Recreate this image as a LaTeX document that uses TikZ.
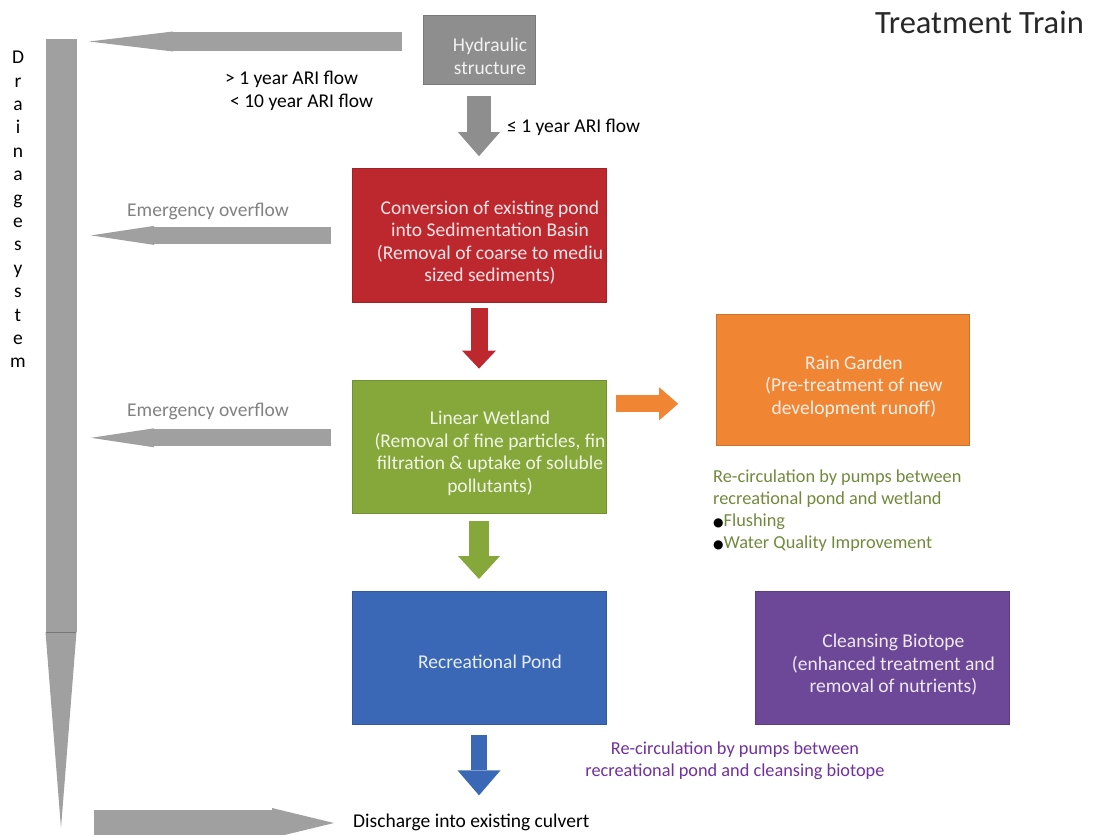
\documentclass[tikz,border=0pt]{standalone}
\usepackage{fontspec}
\setmainfont{Carlito}
\newfontfamily\symfont{DejaVu Sans}
\usetikzlibrary{positioning,arrows.meta}

\definecolor{hydgray}{RGB}{142,142,142}
\definecolor{arrowgray}{RGB}{160,160,160}
\definecolor{sedred}{RGB}{188,40,46}
\definecolor{wetgreen}{RGB}{134,168,58}
\definecolor{rainorange}{RGB}{240,133,52}
\definecolor{pondblue}{RGB}{58,104,182}
\definecolor{biopurple}{RGB}{110,72,152}
\definecolor{notegreen}{RGB}{112,138,60}
\definecolor{notepurple}{RGB}{112,48,160}
\definecolor{overgray}{RGB}{130,130,130}
\definecolor{titlegray}{RGB}{40,40,40}

\begin{document}
\begin{tikzpicture}[x=1pt,y=-1pt,
  box/.style={rectangle,fill=#1,draw=#1!85!black,minimum width=254pt,minimum height=133pt,inner sep=0pt},
  boxtext/.style={align=center,text=white!88!#1,font=\fontsize{19.5}{22.5}\selectfont,inner sep=0pt,xshift=11pt,yshift=-7pt},
  note/.style={font=\fontsize{19.5}{22}\selectfont,inner sep=0pt,anchor=west},
  blockarrow/.style n args={4}{draw=#1,line width=#2,-{Triangle[width=#3,length=#4,line width=0pt]}}]
  \useasboundingbox (0,0) rectangle (1093,835);

  \node[font=\fontsize{32.5}{38}\selectfont,text=titlegray,anchor=base east,inner sep=0pt] (title) at (1084,34) {Treatment Train};

  % boxes of the train
  \node[box=hydgray,minimum width=112pt,minimum height=69pt] (hyd) at (479,49.5) {};
  \node[box=sedred,minimum height=134pt,below=84pt of hyd] (sed) {};
  \node[box=wetgreen,below=77pt of sed] (wet) {};
  \node[box=pondblue,below=78pt of wet] (pond) {};
  \node[box=rainorange,minimum width=253pt,minimum height=131pt,right=110pt of wet,yshift=67pt] (rain) {};
  \node[box=biopurple,right=149pt of pond] (bio) {};

  \node[boxtext=hydgray] (hydtext) at (hyd.center) {Hydraulic\\structure};
  \node[boxtext=sedred] (sedtext) at (sed.center) {Conversion of existing pond\\into Sedimentation Basin\\(Removal of coarse to mediu\\sized sediments)};
  \node[boxtext=wetgreen] (wettext) at (wet.center) {Linear Wetland\\(Removal of fine particles, fin\\filtration \& uptake of soluble\\pollutants)};
  \node[boxtext=rainorange] (raintext) at (rain.center) {Rain Garden\\(Pre-treatment of new\\development runoff)};
  \node[boxtext=pondblue,yshift=3pt] (pondtext) at (pond.center) {Recreational Pond};
  \node[boxtext=biopurple] (biotext) at (bio.center) {Cleansing Biotope\\(enhanced treatment and\\removal of nutrients)};

  % labels
  \node[note] (ari1) at (225,79) {> 1 year ARI flow};
  \node[note] (ari2) at (230,102) {< 10 year ARI flow};
  \node[note] (ari3) at (507,127) {≤ 1 year ARI flow};
  \node[note,text=overgray] (over1) at (127,211) {Emergency overflow};
  \node[note,text=overgray] (over2) at (127,411) {Emergency overflow};
  \node[note,font=\fontsize{18.3}{22}\selectfont,anchor=north west,align=left,text=notegreen] (recirc1) at (713,470) {Re-circulation by pumps between\\recreational pond and wetland\\{\symfont\fontsize{12}{12}\selectfont\color{black}●}Flushing\\{\symfont\fontsize{12}{12}\selectfont\color{black}●}Water Quality Improvement};
  \node[note,font=\fontsize{18.3}{22}\selectfont,anchor=center,align=center,text=notepurple] (recirc2) at (735,761) {Re-circulation by pumps between\\recreational pond and cleansing biotope};
  \node[note] (discharge) at (353,822) {Discharge into existing culvert};
  \node[align=center,inner sep=0pt,font=\fontsize{19.5}{23.4}\selectfont] (drainlabel) at (18,209.5) {D\\r\\a\\i\\n\\a\\g\\e\\s\\y\\s\\t\\e\\m};

  % drainage system
  \coordinate (drtop) at (61,39);
  \coordinate (drtip) at (61,828);
  \coordinate (drainedge) at (91,0);
  \coordinate (toptip) at (89,41.5);
  \coordinate (em2) at ([yshift=8.5pt]wet.west);
  \coordinate (botstart) at (94,823);
  \draw[blockarrow={arrowgray}{31pt}{31pt}{196pt}] (drtop) -- (drtip);
  \draw[arrowgray!75!black,line width=1pt] (46,632) -- (76,632);

  % arrows
  \draw[blockarrow={arrowgray}{19pt}{20pt}{84pt},shorten <=21pt] (toptip -| hyd.west) -- (toptip);
  \draw[blockarrow={arrowgray}{17pt}{19pt}{63pt},shorten <=21pt] (sed.west) -- (sed.west -| drainedge);
  \draw[blockarrow={arrowgray}{17pt}{19pt}{63pt},shorten <=21pt] (em2) -- (em2 -| drainedge);
  \draw[blockarrow={arrowgray}{26pt}{30pt}{62pt},shorten >=19pt] (botstart) -- (botstart -| discharge.west);
  \draw[blockarrow={hydgray}{24pt}{42pt}{24pt},shorten <=12pt,shorten >=12pt] (hyd) -- (sed);
  \draw[blockarrow={sedred}{17pt}{34pt}{18pt},shorten <=5pt,shorten >=11pt] (sed) -- (wet);
  \draw[blockarrow={wetgreen}{20pt}{42pt}{23pt},shorten <=8pt,shorten >=12pt] (wet) -- (pond);
  \draw[blockarrow={pondblue}{16pt}{43pt}{25pt},shorten <=11pt,shorten >=18pt] (pond.south) -- (pond.south |- discharge.north);
  \draw[blockarrow={rainorange}{17pt}{33pt}{19pt},shorten <=10pt,shorten >=38pt] ([yshift=42.5pt]wet.east) -- ([yshift=-24.5pt]rain.west);
\end{tikzpicture}
\end{document}
